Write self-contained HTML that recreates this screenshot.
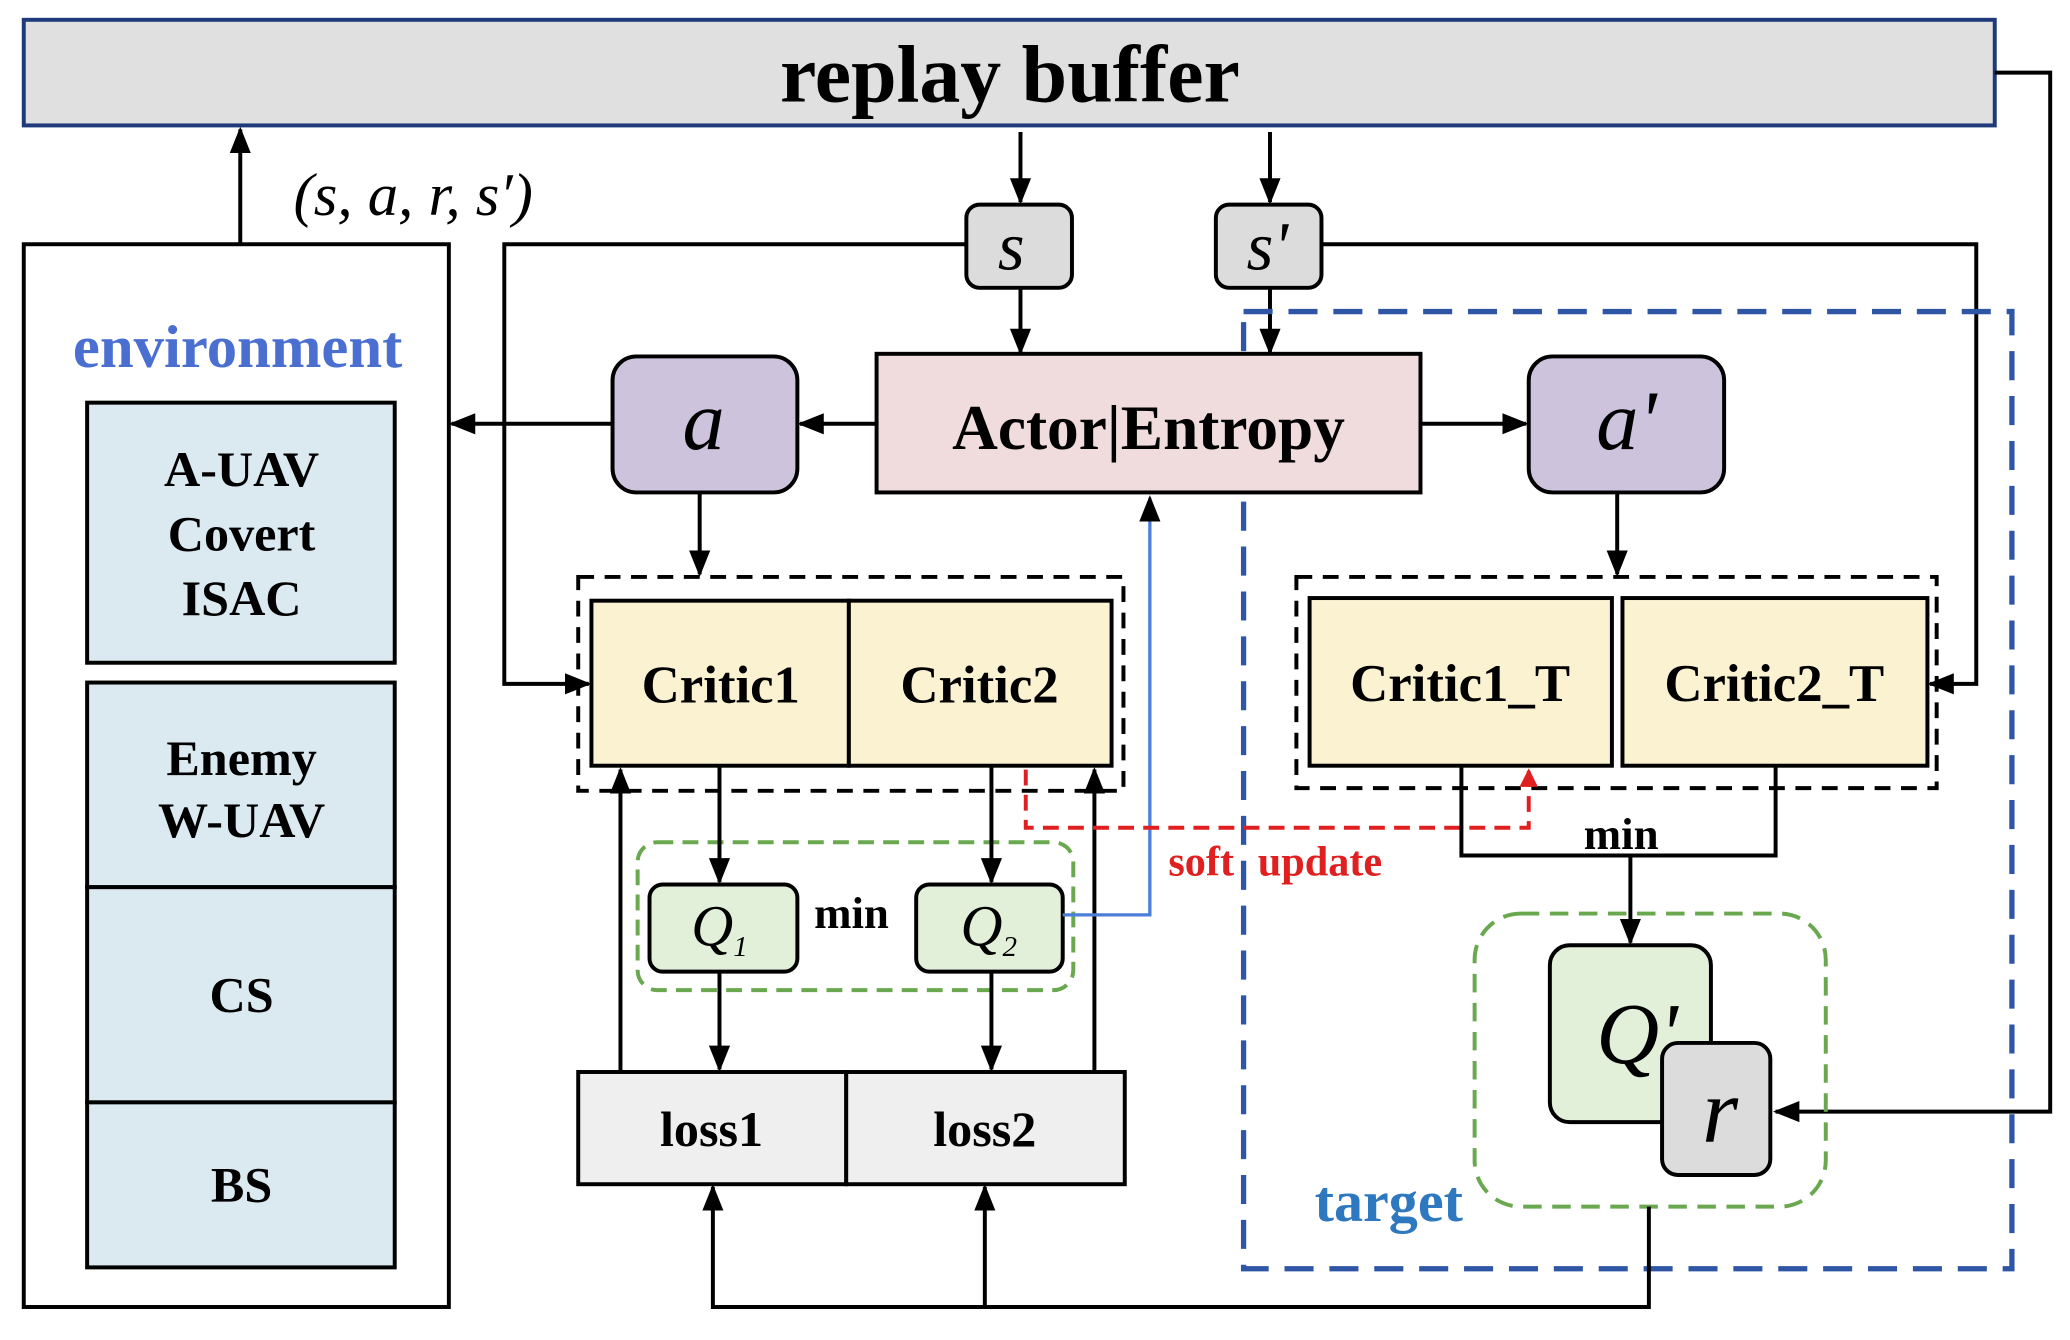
<!DOCTYPE html>
<html><head><meta charset="utf-8"><style>
html,body{margin:0;padding:0;background:#fff;}
svg{display:block;}
text{font-family:"Liberation Serif",serif;font-weight:bold;}
text.it{font-weight:normal;font-style:italic;}
</style></head><body>
<svg width="2070" height="1340" viewBox="0 0 1568 1015" preserveAspectRatio="none" xmlns="http://www.w3.org/2000/svg">
<defs>
<marker id="ar" markerWidth="14" markerHeight="14" refX="12" refY="7" orient="auto" markerUnits="userSpaceOnUse" viewBox="0 0 14 14"><path d="M0,0 L14,7 L0,14 z" fill="#e02020"/></marker>
<marker id="a2" markerWidth="20" markerHeight="20" refX="18" refY="10" orient="auto" markerUnits="userSpaceOnUse" viewBox="0 0 20 20"><path d="M0,2 L20,10 L0,18 z" fill="#000"/></marker>
</defs>
<g stroke="#000" stroke-width="3" fill="none">
<rect x="18" y="15" width="1493" height="80" fill="#e0e0e0" stroke="#1f3a7a"/>
<polyline points="1511,55 1553,55 1553,842 1345,842" marker-end="url(#a2)"/>
<rect x="18" y="185" width="322" height="805"/>
<line x1="182" y1="185" x2="182" y2="98" marker-end="url(#a2)"/>
<rect x="66" y="305" width="233" height="197" fill="#daeaf0"/>
<rect x="66" y="517" width="233" height="155" fill="#daeaf0"/>
<rect x="66" y="672" width="233" height="163" fill="#daeaf0"/>
<rect x="66" y="835" width="233" height="125" fill="#daeaf0"/>
<line x1="773" y1="100" x2="773" y2="153" marker-end="url(#a2)"/>
<line x1="962" y1="100" x2="962" y2="153" marker-end="url(#a2)"/>
<rect x="732" y="155" width="80" height="63" rx="10" fill="#dcdcdc"/>
<rect x="921" y="155" width="80" height="63" rx="10" fill="#dcdcdc"/>
<line x1="773" y1="218" x2="773" y2="267" marker-end="url(#a2)"/>
<line x1="962" y1="218" x2="962" y2="267" marker-end="url(#a2)"/>
<polyline points="732,185 382,185 382,518 446,518" marker-end="url(#a2)"/>
<polyline points="1001,185 1497,185 1497,518 1462,518" marker-end="url(#a2)"/>
<rect x="942" y="236" width="582" height="725" stroke="#2f55a5" stroke-width="4" stroke-dasharray="22 12"/>
<rect x="664" y="268" width="412" height="105" fill="#f0dcdc"/>
<rect x="464" y="270" width="140" height="103" rx="18" fill="#cdc3dc"/>
<rect x="1158" y="270" width="148" height="103" rx="18" fill="#cdc3dc"/>
<line x1="664" y1="321" x2="606" y2="321" marker-end="url(#a2)"/>
<line x1="464" y1="321" x2="342" y2="321" marker-end="url(#a2)"/>
<line x1="1076" y1="321" x2="1156" y2="321" marker-end="url(#a2)"/>
<line x1="530" y1="373" x2="530" y2="435" marker-end="url(#a2)"/>
<line x1="1225" y1="373" x2="1225" y2="435" marker-end="url(#a2)"/>
<rect x="438" y="437" width="413" height="162" stroke-dasharray="12 8"/>
<rect x="448" y="455" width="195" height="125" fill="#fbf2d2"/>
<rect x="643" y="455" width="199" height="125" fill="#fbf2d2"/>
<rect x="982" y="437" width="485" height="160" stroke-dasharray="12 8"/>
<rect x="992" y="453" width="229" height="127" fill="#fbf2d2"/>
<rect x="1229" y="453" width="231" height="127" fill="#fbf2d2"/>
<rect x="483" y="638" width="330" height="112" rx="15" stroke="#6aa84f" stroke-dasharray="12 7"/>
<rect x="492" y="670" width="112" height="66" rx="10" fill="#e2f0d9"/>
<rect x="694" y="670" width="111" height="66" rx="10" fill="#e2f0d9"/>
<line x1="545" y1="580" x2="545" y2="668" marker-end="url(#a2)"/>
<line x1="751" y1="580" x2="751" y2="668" marker-end="url(#a2)"/>
<line x1="545" y1="736" x2="545" y2="810" marker-end="url(#a2)"/>
<line x1="751" y1="736" x2="751" y2="810" marker-end="url(#a2)"/>
<rect x="438" y="812" width="203" height="85" fill="#efefef"/>
<rect x="641" y="812" width="211" height="85" fill="#efefef"/>
<line x1="470" y1="812" x2="470" y2="583" marker-end="url(#a2)"/>
<line x1="829" y1="812" x2="829" y2="583" marker-end="url(#a2)"/>
<polyline points="805,693 871,693 871,377" stroke="#4a7ed8" stroke-width="2.5" marker-end="url(#a2)"/>
<polyline points="777,583 777,627 1158,627 1158,584" stroke="#e02020" stroke-dasharray="12 7" marker-end="url(#ar)"/>
<polyline points="1107,580 1107,648 1345,648 1345,580"/>
<line x1="1235" y1="648" x2="1235" y2="714" marker-end="url(#a2)"/>
<rect x="1117" y="692" width="266" height="222" rx="35" stroke="#6aa84f" stroke-dasharray="14 8"/>
<rect x="1174" y="716" width="122" height="134" rx="15" fill="#e2f0d9"/>
<rect x="1259" y="790" width="82" height="100" rx="12" fill="#dcdcdc"/>
<polyline points="1249,914 1249,990 540,990 540,899" marker-end="url(#a2)"/>
<line x1="746" y1="990" x2="746" y2="899" marker-end="url(#a2)"/>
</g>
<g text-anchor="middle">
<text x="765" y="77" font-size="62">replay buffer</text>
<text class="it" x="313" y="163" font-size="46">(s, a, r, s′)</text>
<text x="180" y="278" font-size="46" fill="#4a6fd0">environment</text>
<text x="183" y="368" font-size="38">A-UAV</text>
<text x="183" y="417" font-size="38">Covert</text>
<text x="183" y="466" font-size="38">ISAC</text>
<text x="183" y="587" font-size="38">Enemy</text>
<text x="183" y="634" font-size="38">W-UAV</text>
<text x="183" y="766" font-size="38">CS</text>
<text x="183" y="910" font-size="38">BS</text>
<text class="it" x="766" y="204" font-size="52">s</text>
<text class="it" x="960" y="204" font-size="52">s'</text>
<text x="870" y="340" font-size="48">Actor|Entropy</text>
<text class="it" x="533" y="340" font-size="64">a</text>
<text class="it" x="1232" y="340" font-size="64">a'</text>
<text x="546" y="532" font-size="40">Critic1</text>
<text x="742" y="532" font-size="40">Critic2</text>
<text x="1106" y="531" font-size="40">Critic1_T</text>
<text x="1344" y="531" font-size="40">Critic2_T</text>
<text class="it" x="545" y="716" font-size="44">Q<tspan font-size="22" dy="8">1</tspan></text>
<text class="it" x="749" y="716" font-size="44">Q<tspan font-size="22" dy="8">2</tspan></text>
<text x="645" y="703" font-size="34">min</text>
<text x="1228" y="643" font-size="34">min</text>
<text x="966" y="663" font-size="32" fill="#e02020" word-spacing="10">soft update</text>
<text x="539" y="868" font-size="38">loss1</text>
<text x="746" y="868" font-size="38">loss2</text>
<text class="it" x="1240" y="805" font-size="66">Q'</text>
<text class="it" x="1303" y="865" font-size="70">r</text>
<text x="1052" y="925" font-size="44" fill="#2e78c0">target</text>
</g>
</svg>
</body></html>
